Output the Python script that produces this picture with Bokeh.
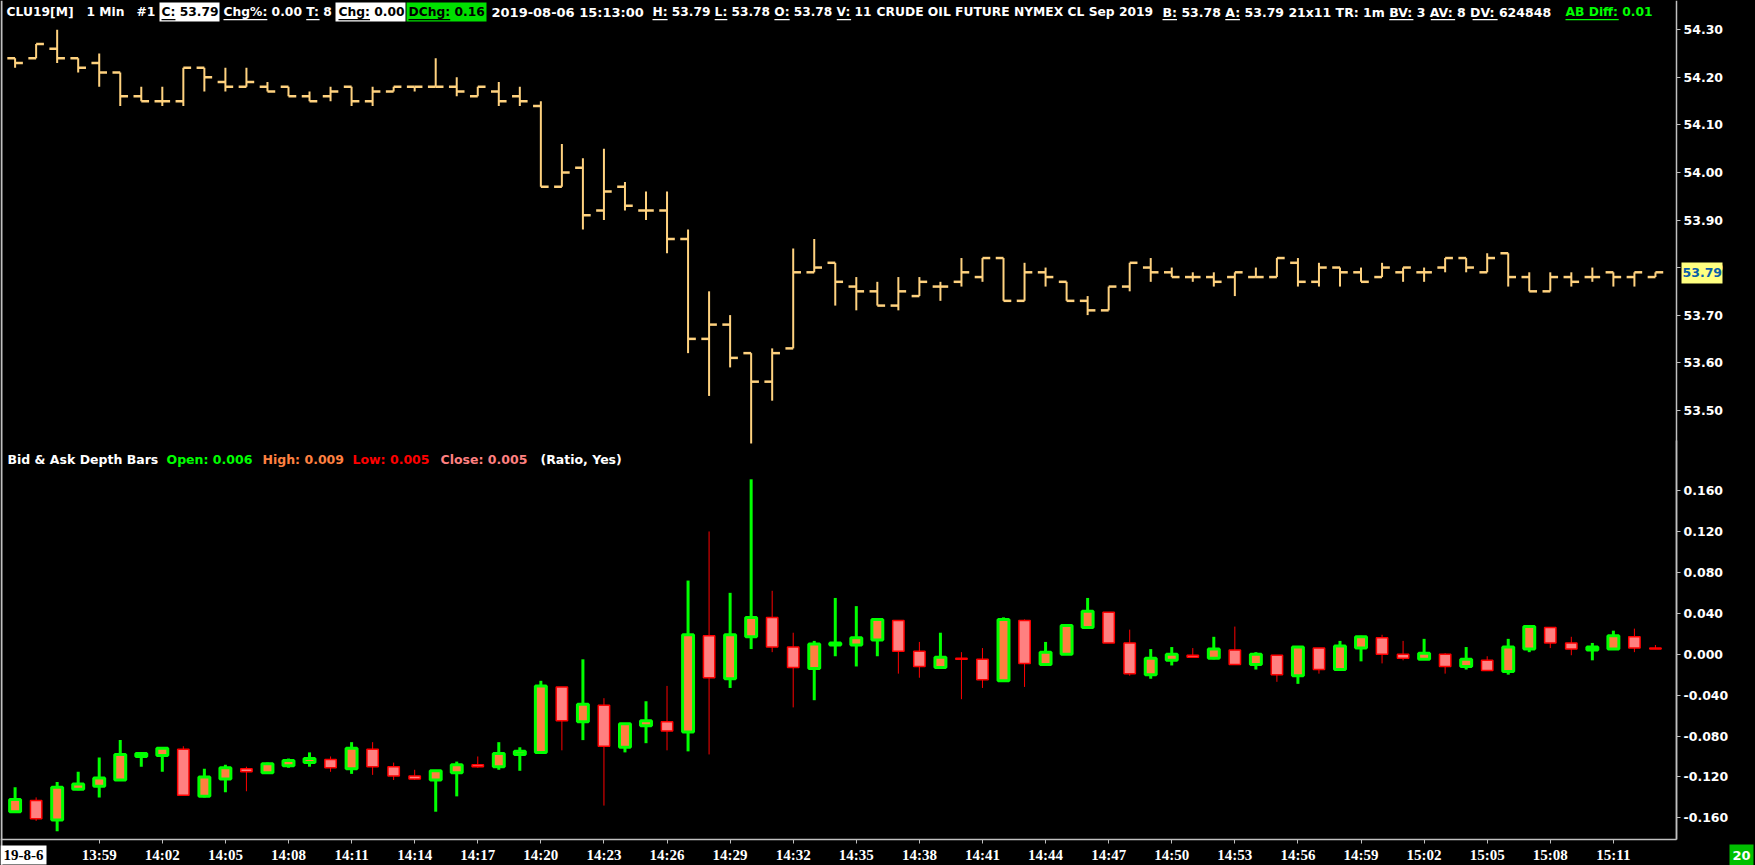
from bokeh.plotting import figure
from bokeh.models import (Range1d, FixedTicker, NumeralTickFormatter, Label, BoxAnnotation, Span,
                          LinearAxis, GlobalInlineStyleSheet)
from bokeh.embed import file_html
from bokeh.resources import INLINE

# ---------------- data ----------------
times = ["13:55", "13:56", "13:57", "13:58", "13:59", "14:00", "14:01", "14:02", "14:03", "14:04",
         "14:05", "14:06", "14:07", "14:08", "14:09", "14:10", "14:11", "14:12", "14:13", "14:14",
         "14:15", "14:16", "14:17", "14:18", "14:19", "14:20", "14:21", "14:22", "14:23", "14:24",
         "14:25", "14:26", "14:27", "14:28", "14:29", "14:30", "14:31", "14:32", "14:33", "14:34",
         "14:35", "14:36", "14:37", "14:38", "14:39", "14:40", "14:41", "14:42", "14:43", "14:44",
         "14:45", "14:46", "14:47", "14:48", "14:49", "14:50", "14:51", "14:52", "14:53", "14:54",
         "14:55", "14:56", "14:57", "14:58", "14:59", "15:00", "15:01", "15:02", "15:03", "15:04",
         "15:05", "15:06", "15:07", "15:08", "15:09", "15:10", "15:11", "15:12", "15:13"]

price_open = [54.24, 54.24, 54.26, 54.24, 54.23, 54.21, 54.16, 54.15, 54.15, 54.22,
              54.19, 54.18, 54.18, 54.18, 54.16, 54.16, 54.18, 54.15, 54.17, 54.18,
              54.18, 54.18, 54.16, 54.17, 54.16, 54.14, 53.97, 54.01, 53.92, 53.97,
              53.92, 53.92, 53.86, 53.65, 53.68, 53.62, 53.56, 53.63, 53.79, 53.81,
              53.76, 53.75, 53.72, 53.74, 53.76, 53.77, 53.78, 53.82, 53.73, 53.79,
              53.77, 53.73, 53.71, 53.76, 53.80, 53.79, 53.78, 53.78, 53.78, 53.78,
              53.78, 53.81, 53.77, 53.80, 53.79, 53.78, 53.79, 53.79, 53.80, 53.82,
              53.79, 53.83, 53.78, 53.75, 53.78, 53.78, 53.79, 53.78, 53.78]
price_high = [54.24, 54.27, 54.30, 54.24, 54.25, 54.21, 54.18, 54.18, 54.22, 54.22,
              54.22, 54.22, 54.19, 54.18, 54.17, 54.18, 54.18, 54.18, 54.18, 54.18,
              54.24, 54.20, 54.18, 54.19, 54.18, 54.15, 54.06, 54.03, 54.05, 53.98,
              53.96, 53.96, 53.88, 53.75, 53.70, 53.62, 53.63, 53.84, 53.86, 53.81,
              53.78, 53.77, 53.78, 53.78, 53.77, 53.82, 53.82, 53.82, 53.81, 53.80,
              53.77, 53.74, 53.76, 53.81, 53.82, 53.80, 53.79, 53.79, 53.79, 53.80,
              53.82, 53.82, 53.81, 53.80, 53.80, 53.81, 53.80, 53.80, 53.82, 53.82,
              53.83, 53.83, 53.79, 53.79, 53.79, 53.80, 53.79, 53.79, 53.79]
price_low = [54.22, 54.24, 54.23, 54.21, 54.18, 54.14, 54.15, 54.14, 54.14, 54.17,
             54.17, 54.18, 54.17, 54.16, 54.15, 54.15, 54.14, 54.14, 54.17, 54.17,
             54.18, 54.16, 54.16, 54.14, 54.14, 53.97, 53.97, 53.88, 53.90, 53.92,
             53.90, 53.83, 53.62, 53.53, 53.59, 53.43, 53.52, 53.63, 53.79, 53.72,
             53.71, 53.72, 53.71, 53.74, 53.73, 53.76, 53.77, 53.73, 53.73, 53.76,
             53.73, 53.70, 53.71, 53.75, 53.77, 53.78, 53.77, 53.76, 53.74, 53.78,
             53.78, 53.76, 53.76, 53.76, 53.77, 53.78, 53.77, 53.77, 53.79, 53.79,
             53.79, 53.76, 53.75, 53.75, 53.76, 53.77, 53.76, 53.76, 53.78]
price_close = [54.23, 54.27, 54.24, 54.22, 54.21, 54.16, 54.15, 54.15, 54.22, 54.20,
               54.18, 54.19, 54.17, 54.16, 54.15, 54.17, 54.15, 54.17, 54.18, 54.18,
               54.18, 54.17, 54.18, 54.15, 54.15, 53.97, 54.00, 53.91, 53.96, 53.93,
               53.92, 53.86, 53.65, 53.68, 53.61, 53.56, 53.62, 53.79, 53.80, 53.77,
               53.75, 53.72, 53.75, 53.77, 53.76, 53.79, 53.82, 53.73, 53.79, 53.78,
               53.73, 53.71, 53.76, 53.81, 53.79, 53.78, 53.78, 53.77, 53.79, 53.78,
               53.82, 53.77, 53.80, 53.79, 53.77, 53.80, 53.80, 53.79, 53.82, 53.80,
               53.82, 53.78, 53.75, 53.78, 53.77, 53.78, 53.78, 53.79, 53.79]

depth_open = [-0.154, -0.143, -0.162, -0.132, -0.129, -0.123, -0.100, -0.099, -0.093, -0.139,
              -0.122, -0.112, -0.116, -0.109, -0.106, -0.103, -0.112, -0.093, -0.110, -0.119,
              -0.123, -0.116, -0.108, -0.110, -0.098, -0.096, -0.032, -0.066, -0.050, -0.091,
              -0.070, -0.066, -0.076, 0.018, -0.024, 0.017, 0.036, 0.007, -0.014, 0.009,
              0.009, 0.014, 0.033, 0.003, -0.013, -0.004, -0.005, -0.026, 0.033, -0.010,
              0.000, 0.026, 0.041, 0.011, -0.020, -0.006, -0.001, -0.004, 0.004, -0.010,
              -0.001, -0.021, 0.006, -0.015, 0.006, 0.016, 0.000, -0.005, 0.000, -0.012,
              -0.006, -0.017, 0.005, 0.026, 0.011, 0.004, 0.005, 0.017, 0.006]
depth_high = [-0.130, -0.140, -0.125, -0.115, -0.101, -0.084, -0.096, -0.092, -0.090, -0.112,
              -0.108, -0.110, -0.106, -0.102, -0.096, -0.100, -0.086, -0.086, -0.106, -0.113,
              -0.114, -0.105, -0.100, -0.086, -0.091, -0.026, -0.032, -0.005, -0.043, -0.068,
              -0.046, -0.031, 0.072, 0.120, 0.060, 0.171, 0.062, 0.021, 0.013, 0.055,
              0.047, 0.035, 0.033, 0.012, 0.021, 0.002, 0.006, 0.036, 0.034, 0.012,
              0.028, 0.055, 0.041, 0.024, 0.005, 0.007, 0.006, 0.017, 0.027, 0.002,
              -0.001, 0.007, 0.006, 0.013, 0.018, 0.019, 0.013, 0.015, 0.001, 0.007,
              -0.002, 0.015, 0.027, 0.026, 0.017, 0.011, 0.023, 0.025, 0.009]
depth_low = [-0.154, -0.163, -0.173, -0.133, -0.140, -0.123, -0.110, -0.115, -0.138, -0.140,
             -0.135, -0.134, -0.116, -0.111, -0.110, -0.115, -0.117, -0.118, -0.123, -0.123,
             -0.154, -0.139, -0.111, -0.113, -0.114, -0.096, -0.094, -0.084, -0.148, -0.096,
             -0.087, -0.094, -0.095, -0.098, -0.033, 0.005, 0.002, -0.052, -0.045, -0.002,
             -0.012, -0.002, -0.019, -0.023, -0.014, -0.044, -0.033, -0.026, -0.032, -0.010,
             0.000, 0.026, 0.011, -0.021, -0.024, -0.011, -0.003, -0.005, -0.010, -0.015,
             -0.027, -0.029, -0.019, -0.015, -0.007, -0.009, -0.006, -0.005, -0.019, -0.015,
             -0.016, -0.020, 0.002, 0.006, -0.001, -0.006, 0.005, 0.002, 0.005]
depth_close = [-0.142, -0.161, -0.130, -0.127, -0.121, -0.098, -0.097, -0.092, -0.138, -0.120,
               -0.111, -0.115, -0.107, -0.104, -0.102, -0.111, -0.092, -0.110, -0.119, -0.122,
               -0.114, -0.108, -0.110, -0.097, -0.095, -0.031, -0.065, -0.049, -0.090, -0.068,
               -0.065, -0.075, 0.019, -0.023, 0.019, 0.036, 0.007, -0.013, 0.010, 0.011,
               0.016, 0.034, 0.003, -0.012, -0.003, -0.005, -0.025, 0.034, -0.009, 0.002,
               0.028, 0.042, 0.011, -0.019, -0.004, 0.000, -0.003, 0.005, -0.010, 0.000,
               -0.020, 0.007, -0.015, 0.008, 0.017, 0.000, -0.004, 0.001, -0.012, -0.005,
               -0.016, 0.007, 0.027, 0.011, 0.005, 0.007, 0.018, 0.006, 0.005]

price_ticks = [53.50, 53.60, 53.70, 53.80, 53.90, 54.00, 54.10, 54.20, 54.30]
depth_ticks = [-0.16, -0.12, -0.08, -0.04, 0.0, 0.04, 0.08, 0.12, 0.16]
time_tick_labels = ["13:59", "14:02", "14:05", "14:08", "14:11", "14:14", "14:17", "14:20", "14:23",
                    "14:26", "14:29", "14:32", "14:35", "14:38", "14:41", "14:44", "14:47", "14:50",
                    "14:53", "14:56", "14:59", "15:02", "15:05", "15:08", "15:11"]
last_price = 53.79

# ---------------- layout helpers (reference pixel -> data) ----------------
def px2x(px):
    return (px - 14.6) / 21.03

def px2p(py):
    return 54.30 - (py - 29.3) / 475.5

def px2d(py):
    return (653.7 - py) / 1022.8

# approximate advance widths (em) of DejaVu Sans Bold, used only to place underlines
EM = {" ": .348, "#": .838, "%": 1.002, "-": .415, ".": .380, ":": .400, "[": .457, "]": .457,
      "A": .774, "B": .762, "C": .734, "D": .830, "E": .683, "F": .683, "H": .837, "I": .372,
      "L": .637, "M": .995, "N": .837, "O": .850, "R": .770, "S": .720, "T": .682, "U": .812,
      "V": .774, "X": .774, "Y": .724, "e": .678, "f": .435, "g": .716, "h": .712, "i": .343,
      "m": 1.042, "n": .712, "p": .716, "x": .663}

def text_w(s, size):
    return sum(EM.get(c, .696) for c in s) * size

idx = [times.index(t) for t in times]
tick_idx = [times.index(t) for t in time_tick_labels]

FONT = "DejaVu Sans"
NARROW = "Liberation Sans Narrow"
BAR = "#FFD27F"
GRAY = "#C0C0C0"

p = figure(width=1755, height=865,
           x_range=Range1d(px2x(0), px2x(1755)), y_range=Range1d(px2p(865), px2p(0)),
           output_backend="svg", toolbar_location=None,
           x_axis_location=None, y_axis_location=None, min_border=0,
           stylesheets=[GlobalInlineStyleSheet(css="body { background-color: #000000; overflow: hidden; }")])
p.extra_y_ranges = {"depth": Range1d(px2d(865), px2d(0))}
p.background_fill_color = "black"
p.border_fill_color = "black"
p.outline_line_color = None
p.grid.visible = False

# ---------------- price bars ----------------
tk = 0.37
p.segment(x0=idx, y0=price_low, x1=idx, y1=price_high, line_color=BAR, line_width=2)
p.segment(x0=[i - tk for i in idx], y0=price_open, x1=idx, y1=price_open, line_color=BAR, line_width=2.5)
p.segment(x0=idx, y0=price_close, x1=[i + tk for i in idx], y1=price_close, line_color=BAR, line_width=2.5)

# ---------------- depth candles ----------------
up = [i for i in idx if depth_close[i] >= depth_open[i]]
dn = [i for i in idx if depth_close[i] < depth_open[i]]

p.segment(x0=dn, y0=[depth_low[i] for i in dn], x1=dn, y1=[depth_high[i] for i in dn],
          line_color="#FF0000", line_width=1, y_range_name="depth")
p.vbar(x=dn, width=0.54, top=[depth_open[i] for i in dn], bottom=[depth_close[i] for i in dn],
       fill_color="#FF8080", line_color="#FF0000", line_width=1.5, y_range_name="depth")
p.segment(x0=up, y0=[depth_low[i] for i in up], x1=up, y1=[depth_high[i] for i in up],
          line_color="#00FF00", line_width=3, y_range_name="depth")
p.vbar(x=up, width=0.52, top=[depth_close[i] for i in up], bottom=[depth_open[i] for i in up],
       fill_color="#FF8040", line_color="#00FF00", line_width=3, y_range_name="depth")

# ---------------- axes ----------------
def style_axis(ax, font=FONT, size="12.5px"):
    ax.axis_line_color = GRAY
    ax.axis_line_width = 1.5
    ax.major_tick_line_color = GRAY
    ax.major_tick_out = 4
    ax.major_tick_in = 0
    ax.minor_tick_line_color = None
    ax.major_label_text_color = "white"
    ax.major_label_text_font = font
    ax.major_label_text_font_style = "bold"
    ax.major_label_text_font_size = size
    ax.major_label_standoff = 3

ax_price = LinearAxis(fixed_location=px2x(1676), bounds=(px2p(839), px2p(0)),
                      ticker=FixedTicker(ticks=price_ticks), formatter=NumeralTickFormatter(format="0.00"))
style_axis(ax_price)
p.add_layout(ax_price, "right")

ax_depth = LinearAxis(y_range_name="depth", fixed_location=px2x(1676),
                      bounds=(px2d(839), px2d(440)),
                      ticker=FixedTicker(ticks=depth_ticks), formatter=NumeralTickFormatter(format="0.000"))
style_axis(ax_depth)
p.add_layout(ax_depth, "right")

ax_time = LinearAxis(fixed_location=px2p(839), bounds=(px2x(0), px2x(1676)),
                     ticker=FixedTicker(ticks=tick_idx))
ax_time.major_label_overrides = {i: lab for i, lab in zip(tick_idx, time_tick_labels)}
style_axis(ax_time, font=NARROW, size="15px")
ax_time.major_label_standoff = 3
p.add_layout(ax_time, "below")

p.add_layout(Span(location=px2x(1), dimension="height", line_color=GRAY, line_width=2))

# ---------------- header ----------------
hy0, hy1 = px2p(21), px2p(2)
for x0, x1, col in [(159, 219, "white"), (335, 405, "white"), (406, 486, "#00E000")]:
    p.add_layout(BoxAnnotation(left=px2x(x0), right=px2x(x1), bottom=hy0, top=hy1,
                               fill_color=col, fill_alpha=1, line_color=None))

# (left px, text, colour, font size, underlined field names)
header = [
    (6, "CLU19[M]", "white", 12.3, []),
    (86, "1 Min", "white", 12.3, []),
    (136, "#1", "white", 12.3, []),
    (161, "C: 53.79", "black", 12.3, ["C:"]),
    (223, "Chg%: 0.00 T: 8", "white", 12.3, ["Chg%:", "T:"]),
    (338, "Chg: 0.00", "black", 12.3, ["Chg:"]),
    (408, "DChg: 0.16", "black", 12.3, ["DChg:"]),
    (491, "2019-08-06 15:13:00", "white", 13.0, []),
    (652, "H: 53.79 L: 53.78 O: 53.78 V: 11", "white", 12.2, ["H:", "L:", "O:", "V:"]),
    (876, "CRUDE OIL FUTURE NYMEX CL Sep 2019", "white", 12.3, []),
    (1162, "B: 53.78 A: 53.79 21x11 TR: 1m BV: 3 AV: 8 DV: 624848", "white", 12.5,
     ["B:", "A:", "BV:", "AV:", "DV:"]),
    (1565, "AB Diff: 0.01", "#00FF00", 12.3, ["AB Diff:"]),
]
for px, txt, col, size, fields in header:
    p.add_layout(Label(x=px2x(px), y=px2p(11.5), text=txt, text_color=col, text_font=FONT,
                       text_font_style="bold", text_font_size=f"{size}px", text_baseline="middle",
                       text_align="left"))
    pos = 0
    for f in fields:
        k = txt.find(f, pos)
        pos = k + len(f)
        u0 = px + text_w(txt[:k], size)
        u1 = u0 + text_w(f, size)
        p.add_layout(BoxAnnotation(left=px2x(u0), right=px2x(u1), top=px2p(18.5), bottom=px2p(19.8),
                                   fill_color=col, fill_alpha=1, line_color=None))

# last price marker on the axis
p.add_layout(BoxAnnotation(left=px2x(1681), right=px2x(1722), top=px2p(262), bottom=px2p(283),
                           fill_color="#FFFF80", fill_alpha=1, line_color=None))
p.add_layout(Label(x=px2x(1682), y=last_price, text="53.79", text_color="#0A5FA8",
                   text_font=FONT, text_font_style="bold", text_font_size="12.5px",
                   text_baseline="middle", text_align="left"))

# ---------------- depth pane title ----------------
legend_parts = [
    (7, "Bid & Ask Depth Bars", "white"), (166, "Open: 0.006", "#00FF00"),
    (262, "High: 0.009", "#FF8040"), (352, "Low: 0.005", "#FF0000"),
    (440, "Close: 0.005", "#FF8080"), (540, "(Ratio, Yes)", "white"),
]
for px, txt, col in legend_parts:
    p.add_layout(Label(x=px2x(px), y=px2d(459), y_range_name="depth", text=txt, text_color=col,
                       text_font=FONT, text_font_size="12.5px", text_font_style="bold",
                       text_baseline="middle", text_align="left"))

# ---------------- bottom corner boxes ----------------
p.add_layout(BoxAnnotation(left=px2x(0), right=px2x(46), top=px2p(845), bottom=px2p(864),
                           fill_color="white", fill_alpha=1, line_color=None))
p.add_layout(Label(x=px2x(23), y=px2p(854.5), text="19-8-6", text_color="black", text_font=NARROW,
                   text_font_style="bold", text_font_size="15px", text_baseline="middle",
                   text_align="center"))
p.add_layout(BoxAnnotation(left=px2x(1729), right=px2x(1753), top=px2p(844), bottom=px2p(865),
                           fill_color="#00C000", fill_alpha=1, line_color=None))
p.add_layout(Label(x=px2x(1741), y=px2p(854.5), text="20", text_color="white", text_font=FONT,
                   text_font_style="bold", text_font_size="13px", text_baseline="middle",
                   text_align="center"))

open("out.html", "w").write(file_html(p, INLINE))
